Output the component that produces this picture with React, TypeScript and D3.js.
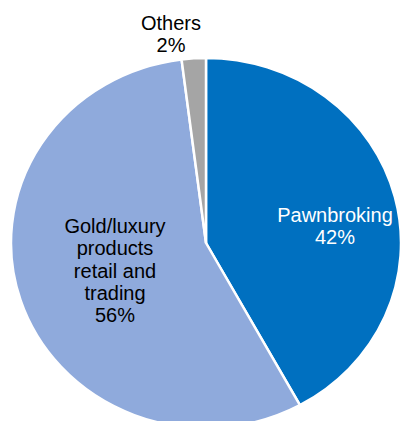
import React from "react";
import * as d3 from "d3";

const categories = ["Pawnbroking", "Gold/luxury products retail and trading", "Others"];
const values = [42, 56, 2];
const colors = ["#0070C0", "#8FAADC", "#A5A5A5"];
const labelLines = [
  ["Pawnbroking", "42%"],
  ["Gold/luxury", "products", "retail and", "trading", "56%"],
  ["Others", "2%"],
];
const labelColors = ["#FFFFFF", "#000000", "#000000"];

const W = 400;
const H = 421;
const cx = 206;
const cy = 243;
const rx = 195;
const ry = 185;

// label anchors (screen coords: center x, first baseline y)
const labelAnchors = [
  { x: 335, y: 222 },
  { x: 115, y: 233 },
  { x: 171, y: 30 },
];
const lineGap = 22.3;

export default function App() {
  const pie = d3
    .pie<number>()
    .sort(null)
    .value((d) => d)
    .startAngle(0)
    .endAngle(2 * Math.PI);
  const arcs = pie(values);
  const arc = d3.arc<d3.PieArcDatum<number>>().innerRadius(0).outerRadius(rx);

  return (
    <svg
      width={W}
      height={H}
      style={{ position: "absolute", left: 0, top: 0, display: "block" }}
      fontFamily="'Liberation Sans', Arial, sans-serif"
    >
      <rect width={W} height={H} fill="#FFFFFF" />
      <g transform={`translate(${cx},${cy}) scale(1,${ry / rx})`}>
        {arcs.map((a, i) => (
          <path
            key={categories[i]}
            d={arc(a) || ""}
            fill={colors[i]}
            stroke="#FFFFFF"
            strokeWidth={2.5}
            strokeLinejoin="miter"
          />
        ))}
      </g>
      {labelLines.map((lines, i) => (
        <text
          key={categories[i]}
          x={labelAnchors[i].x}
          y={labelAnchors[i].y}
          fill={labelColors[i]}
          fontSize={20}
          textAnchor="middle"
        >
          {lines.map((l, j) => (
            <tspan key={j} x={labelAnchors[i].x} y={labelAnchors[i].y + j * lineGap}>
              {l}
            </tspan>
          ))}
        </text>
      ))}
    </svg>
  );
}
